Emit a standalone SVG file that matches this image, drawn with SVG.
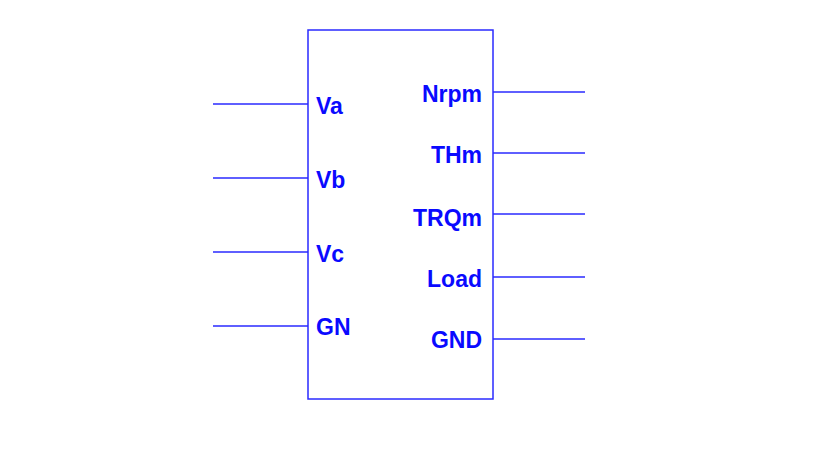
<svg xmlns="http://www.w3.org/2000/svg" width="834" height="450" viewBox="0 0 834 450">
<style>
.ln{stroke:#2a2aff;stroke-width:1.5;fill:none}
.t{font-family:"Liberation Sans",Arial,sans-serif;font-weight:bold;font-size:23px;fill:#0a0aff}
.r{text-anchor:end}
</style>
<rect width="834" height="450" fill="#ffffff"/>
<g id="block">
<rect class="ln" x="308" y="30" width="185" height="369"/>
<text class="t" x="316" y="114">Va</text>
<text class="t" x="316" y="188">Vb</text>
<text class="t" x="316" y="262">Vc</text>
<text class="t" x="316" y="335">GN</text>
<text class="t r" x="482" y="102">Nrpm</text>
<text class="t r" x="482" y="163">THm</text>
<text class="t r" x="482" y="226">TRQm</text>
<text class="t r" x="482" y="287">Load</text>
<text class="t r" x="482" y="348">GND</text>
</g>
<g id="connectors">
<line class="ln" x1="213" y1="104" x2="308" y2="104"/>
<line class="ln" x1="213" y1="178" x2="308" y2="178"/>
<line class="ln" x1="213" y1="252" x2="308" y2="252"/>
<line class="ln" x1="213" y1="326" x2="308" y2="326"/>
<line class="ln" x1="493" y1="92" x2="585" y2="92"/>
<line class="ln" x1="493" y1="153" x2="585" y2="153"/>
<line class="ln" x1="493" y1="214" x2="585" y2="214"/>
<line class="ln" x1="493" y1="277" x2="585" y2="277"/>
<line class="ln" x1="493" y1="339" x2="585" y2="339"/>
</g>
</svg>
